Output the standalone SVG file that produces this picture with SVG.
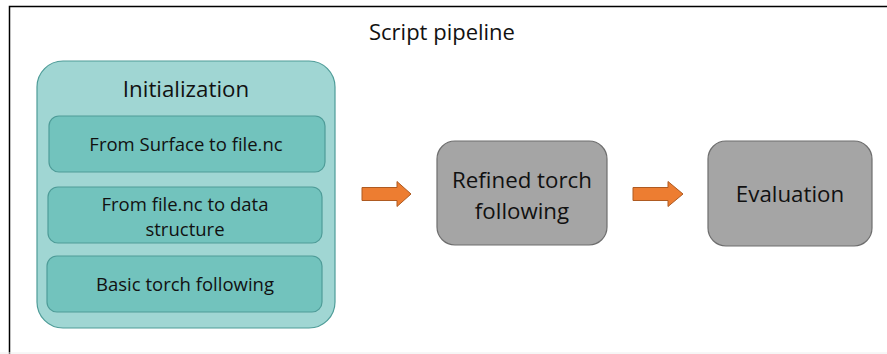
<svg xmlns="http://www.w3.org/2000/svg" width="887" height="354" viewBox="0 0 887 354">
<style>
text{font-family:"Open Sans","Liberation Sans",sans-serif;fill:#111;text-anchor:middle}
.outer{fill:#A0D6D3;stroke:#4E9C98;stroke-width:1.2}
.inner{fill:#72C3BD;stroke:#4E9C98;stroke-width:1.2}
.grey{fill:#A5A5A5;stroke:#6E6E6E;stroke-width:1.2}
.arrow{fill:#ED7D31;stroke:#AE5A21;stroke-width:1}
.t1{font-size:18.5px}
.t2{font-size:22.3px}
</style>
<rect x="0" y="0" width="887" height="354" fill="#fff"/>
<path d="M9.5 354 V6.5 H887" fill="none" stroke="#000" stroke-width="1.5"/>
<line x1="0" y1="353" x2="887" y2="353" stroke="#eee" stroke-width="1"/>
<text x="442" y="40" style="font-size:22px">Script pipeline</text>
<g id="initialization">
<rect class="outer" x="37" y="61" width="298" height="267" rx="26"/>
<text class="t2" x="186" y="97">Initialization</text>
</g>
<g id="surface-to-file">
<rect class="inner" x="49" y="116" width="276" height="56" rx="10"/>
<text class="t1" x="186" y="151">From Surface to file.nc</text>
</g>
<g id="file-to-data">
<rect class="inner" x="48" y="187" width="274" height="56" rx="10"/>
<text class="t1" x="185" y="211">From file.nc to data</text>
<text class="t1" x="185" y="236">structure</text>
</g>
<g id="basic-torch">
<rect class="inner" x="47" y="256" width="275" height="56" rx="10"/>
<text class="t1" x="185" y="291">Basic torch following</text>
</g>
<g id="refined-torch">
<rect class="grey" x="437" y="141" width="170" height="104" rx="18"/>
<text class="t2" x="522" y="188">Refined torch</text>
<text class="t2" x="522" y="219">following</text>
</g>
<g id="evaluation">
<rect class="grey" x="708" y="141" width="164" height="105" rx="18"/>
<text class="t2" x="790" y="202">Evaluation</text>
</g>
<g id="connectors">
<path class="arrow" d="M362 187.5 H397 V181.5 L411 194 L397 206.5 V200.5 H362 Z"/>
<path class="arrow" d="M633 187.5 H668 V181.5 L683 194 L668 206.5 V200.5 H633 Z"/>
</g>
</svg>
